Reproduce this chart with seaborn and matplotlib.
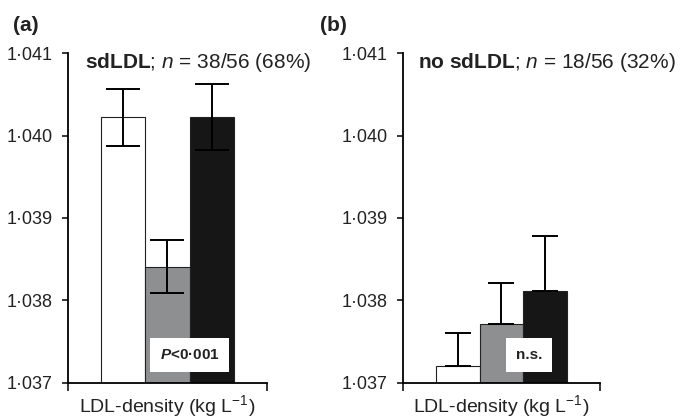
"""
LDL-density bar chart, two panels: sdLDL vs no sdLDL
"""
import numpy as np
import pandas as pd
import matplotlib
matplotlib.use('Agg')
import matplotlib.pyplot as plt
from matplotlib.ticker import FuncFormatter
import seaborn as sns

# ==========================================
# Data
# ==========================================
groups = ['g1', 'g2', 'g3']
bar_colors = ['#ffffff', '#8e8f91', '#161616']

# panel (a): sdLDL
a_values = [1.04022, 1.03841, 1.04022]
a_err = [0.00035, 0.00032, 0.00040]
# panel (b): no sdLDL (upper error only)
b_values = [1.03721, 1.03771, 1.03812]
b_err = [0.00040, 0.00050, 0.00066]

y_ticks = [1.037, 1.038, 1.039, 1.040, 1.041]

sns.set_theme(style='ticks')
plt.rcParams['font.family'] = ['Liberation Sans', 'DejaVu Sans']
plt.rcParams['mathtext.fontset'] = 'custom'
plt.rcParams['mathtext.rm'] = 'Liberation Sans'
plt.rcParams['mathtext.it'] = 'Liberation Sans:italic'
plt.rcParams['mathtext.bf'] = 'Liberation Sans:bold'
plt.rcParams['mathtext.bfit'] = 'Liberation Sans:italic:bold'

fig = plt.figure(figsize=(6.8, 4.18), dpi=100)
ax_a = fig.add_axes([0.100, 0.084, 0.2926, 0.789])
ax_b = fig.add_axes([0.5926, 0.084, 0.2897, 0.789])

dot_fmt = FuncFormatter(lambda v, p: f"{v:.3f}".replace('.', '·'))


def draw_panel(ax, values, err, symmetric, capsize, title, title_x, note, note_x):
    df = pd.DataFrame({'group': groups, 'value': values})
    sns.barplot(data=df, x='group', y='value', hue='group', palette=bar_colors,
                width=1.0, errorbar=None, edgecolor='#222222', linewidth=0.8,
                legend=False, ax=ax)
    xs = np.arange(len(values))
    lower = err if symmetric else [0] * len(err)
    ax.errorbar(xs, values, yerr=[lower, err], fmt='none', ecolor='black',
                elinewidth=1.4, capsize=capsize, capthick=1.4, zorder=5)

    ax.set_ylim(1.037, 1.041)
    ax.set_xlim(-1.25, 3.25)
    ax.set_yticks(y_ticks)
    ax.yaxis.set_major_formatter(dot_fmt)
    ax.set_xticks([-1.25, 3.25])
    ax.set_xticklabels(['', ''])
    ax.tick_params(axis='both', direction='out', length=4, width=1.1,
                   color='black', labelsize=13, labelcolor='#222222')
    ax.tick_params(axis='x', length=6, pad=0)
    ax.tick_params(axis='y', pad=7)
    for s in ['left', 'bottom']:
        ax.spines[s].set_linewidth(1.3)
        ax.spines[s].set_color('black')
    sns.despine(ax=ax)
    ax.set_xlabel(r'LDL-density (kg L$^{-1}$)', fontsize=14, labelpad=1,
                  color='#222222')
    ax.set_ylabel('')

    ax.text(title_x, 0.97, title, transform=ax.transAxes,
            fontsize=15, va='center', ha='left', color='#222222')
    ax.text(note_x, 1.03734, note, fontsize=11, fontweight='bold', ha='center',
            va='center', color='#222222', zorder=6,
            bbox=dict(facecolor='white', edgecolor='none', pad=7))


draw_panel(ax_a, a_values, a_err, True, 12.5,
           r'$\mathbf{sdLDL}$; $\mathit{n}$ = 38/56 (68%)', 0.085,
           r'$\mathbfit{P}$<0·001', 1.5)
draw_panel(ax_b, b_values, b_err, False, 9.5,
           r'$\mathbf{no\ sdLDL}$; $\mathit{n}$ = 18/56 (32%)', 0.076,
           'n.s.', 1.63)

fig.text(0.019, 0.938, '(a)', fontsize=15, fontweight='bold', va='center',
         color='#222222')
fig.text(0.470, 0.938, '(b)', fontsize=15, fontweight='bold', va='center',
         color='#222222')

plt.savefig('out.png', dpi=100)
plt.close()
